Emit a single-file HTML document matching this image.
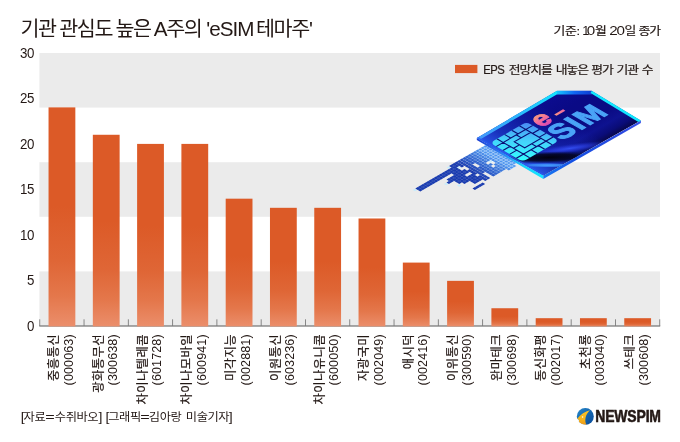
<!DOCTYPE html>
<html lang="ko">
<head>
<meta charset="utf-8">
<title>기관 관심도 높은 A주의 'eSIM 테마주'</title>
<style>
html,body{margin:0;padding:0;background:#fff;}
body{width:680px;height:442px;overflow:hidden;position:relative;font-family:"Liberation Sans", "Noto Sans CJK KR", sans-serif;color:#231815;}
svg{position:absolute;left:0;top:0;display:block;}
text{font-family:"Liberation Sans", "Noto Sans CJK KR", sans-serif;fill:#231815;}
.t{font-size:20.4px;font-weight:400;letter-spacing:-1.34px;}
.d{font-size:11.5px;font-weight:400;letter-spacing:-0.335px;stroke:#231815;stroke-width:0.2px;}
.y{font-size:14.8px;font-weight:400;letter-spacing:-0.6px;}
.x{font-size:12.3px;font-weight:400;letter-spacing:0px;stroke:#231815;stroke-width:0.2px;}
.f{font-size:11.8px;font-weight:400;letter-spacing:-0.4px;}
.lg{font-size:15.8px;font-weight:700;letter-spacing:-0.2px;fill:#231815;stroke:#231815;stroke-width:0.55px;stroke-linejoin:round;}
</style>
</head>
<body>
<svg width="680" height="442" viewBox="0 0 680 442">
<defs>
<linearGradient id="bar" x1="0" y1="0" x2="0" y2="1"><stop offset="0" stop-color="#dc5a27"/><stop offset="1" stop-color="#ef906c"/></linearGradient>
<linearGradient id="barG" x1="0" y1="0" x2="0" y2="1"><stop offset="0" stop-color="#dc5a27"/><stop offset="0.45" stop-color="#dc5a27"/><stop offset="0.7" stop-color="#df6636"/><stop offset="0.86" stop-color="#e4774b"/><stop offset="1" stop-color="#eb8e6b"/></linearGradient>
<linearGradient id="lgc" x1="0" y1="0" x2="1" y2="1"><stop offset="0" stop-color="#2a8bcb"/><stop offset="0.5" stop-color="#1265b0"/><stop offset="1" stop-color="#0a4a98"/></linearGradient>
<linearGradient id="lgy" x1="0" y1="0" x2="0" y2="1"><stop offset="0" stop-color="#f7c32a"/><stop offset="0.6" stop-color="#f4b41c"/><stop offset="1" stop-color="#ee9a1a"/></linearGradient>
</defs>
<rect width="680" height="442" fill="#fff"/>
<rect x="39.4" y="53.00" width="620.6" height="54.60" fill="#ebebeb"/>
<rect x="39.4" y="162.20" width="620.6" height="54.60" fill="#ebebeb"/>
<rect x="39.4" y="271.40" width="620.6" height="54.60" fill="#ebebeb"/>
<text class="t" transform="translate(0 35.6) scale(1.013 1)"><tspan x="20.14">기관 </tspan><tspan x="58.44">관심도 </tspan><tspan x="113.92">높은 </tspan><tspan x="151.83">A주의 </tspan><tspan x="203.65" style="letter-spacing:-0.95px">'eSIM </tspan><tspan x="252.71">테마주'</tspan></text>
<text class="d" transform="translate(0 35.2) scale(1.1165 1)"><tspan x="495.84">기준: </tspan><tspan x="521.45" style="font-size:13.6px;letter-spacing:-0.93px;stroke:none" textLength="5.6" lengthAdjust="spacingAndGlyphs">1</tspan><tspan x="525.48" style="font-size:13.6px;letter-spacing:-0.93px;stroke:none">0</tspan><tspan x="532.92">월 </tspan><tspan x="545.63" style="font-size:13.6px;letter-spacing:-0.93px;stroke:none">20</tspan><tspan x="559.43">일 </tspan><tspan x="571.88" style="letter-spacing:-0.9px">종가</tspan></text>
<rect x="455" y="64.9" width="22.4" height="8.2" fill="#dc5a27"/>
<text class="d" style="font-size:11.9px;letter-spacing:-0.55px" transform="translate(483.2 73.9) scale(0.95 1)">EPS </text>
<text class="d" style="letter-spacing:-0.91px" transform="translate(0 73.9) scale(1.1165 1)"><tspan x="455.62">전망치를 </tspan><tspan x="497.81">내놓은 </tspan><tspan x="529.51">평가 </tspan><tspan x="552.08">기관 </tspan><tspan x="574.83">수</tspan></text>
<text class="y" transform="translate(33.8 330.9) scale(0.9 1)" text-anchor="end">0</text>
<text class="y" transform="translate(33.8 285.4) scale(0.9 1)" text-anchor="end">5</text>
<text class="y" transform="translate(33.8 239.8) scale(0.9 1)" text-anchor="end">10</text>
<text class="y" transform="translate(33.8 194.3) scale(0.9 1)" text-anchor="end">15</text>
<text class="y" transform="translate(33.8 148.8) scale(0.9 1)" text-anchor="end">20</text>
<text class="y" transform="translate(33.8 103.3) scale(0.9 1)" text-anchor="end">25</text>
<text class="y" transform="translate(33.8 57.9) scale(0.9 1)" text-anchor="end">30</text>
<rect x="39.3" y="325.4" width="620.9" height="1.2" fill="#737373"/>
<rect x="39.30" y="319.3" width="0.9" height="6.7" fill="#7c7c7c"/>
<rect x="83.59" y="319.3" width="0.9" height="6.7" fill="#7c7c7c"/>
<rect x="127.87" y="319.3" width="0.9" height="6.7" fill="#7c7c7c"/>
<rect x="172.16" y="319.3" width="0.9" height="6.7" fill="#7c7c7c"/>
<rect x="216.44" y="319.3" width="0.9" height="6.7" fill="#7c7c7c"/>
<rect x="260.73" y="319.3" width="0.9" height="6.7" fill="#7c7c7c"/>
<rect x="305.01" y="319.3" width="0.9" height="6.7" fill="#7c7c7c"/>
<rect x="349.30" y="319.3" width="0.9" height="6.7" fill="#7c7c7c"/>
<rect x="393.59" y="319.3" width="0.9" height="6.7" fill="#7c7c7c"/>
<rect x="437.87" y="319.3" width="0.9" height="6.7" fill="#7c7c7c"/>
<rect x="482.16" y="319.3" width="0.9" height="6.7" fill="#7c7c7c"/>
<rect x="526.44" y="319.3" width="0.9" height="6.7" fill="#7c7c7c"/>
<rect x="570.73" y="319.3" width="0.9" height="6.7" fill="#7c7c7c"/>
<rect x="615.01" y="319.3" width="0.9" height="6.7" fill="#7c7c7c"/>
<rect x="659.30" y="319.3" width="0.9" height="6.7" fill="#7c7c7c"/>
<rect x="48.54" y="107.38" width="26.80" height="219.07" fill="url(#barG)"/>
<rect x="92.83" y="134.77" width="26.80" height="191.68" fill="url(#barG)"/>
<rect x="137.11" y="143.90" width="26.80" height="182.55" fill="url(#barG)"/>
<rect x="181.40" y="143.90" width="26.80" height="182.55" fill="url(#barG)"/>
<rect x="225.69" y="198.68" width="26.80" height="127.77" fill="url(#barG)"/>
<rect x="269.97" y="207.81" width="26.80" height="118.64" fill="url(#barG)"/>
<rect x="314.26" y="207.81" width="26.80" height="118.64" fill="url(#barG)"/>
<rect x="358.54" y="218.49" width="26.80" height="107.96" fill="url(#barG)"/>
<rect x="402.83" y="262.59" width="26.80" height="63.86" fill="url(#barG)"/>
<rect x="447.11" y="280.85" width="26.80" height="45.60" fill="url(#barG)"/>
<rect x="491.40" y="308.24" width="26.80" height="18.21" fill="url(#barG)"/>
<rect x="535.69" y="318.19" width="26.80" height="8.26" fill="url(#barG)"/>
<rect x="579.97" y="318.19" width="26.80" height="8.26" fill="url(#barG)"/>
<rect x="624.26" y="318.19" width="26.80" height="8.26" fill="url(#barG)"/>
<text class="x" style="letter-spacing:0.45px" text-anchor="end" transform="translate(58.24 333.9) rotate(-90)" x="0" y="0">중흥통신</text>
<text class="x" style="font-size:13.6px;letter-spacing:0.15px;stroke:none" text-anchor="end" transform="translate(72.74 334.3) rotate(-90) scale(0.92 1)" x="0" y="0">(000063)</text>
<text class="x" style="letter-spacing:0.45px" text-anchor="end" transform="translate(102.53 333.9) rotate(-90)" x="0" y="0">광화통무선</text>
<text class="x" style="font-size:13.6px;letter-spacing:0.15px;stroke:none" text-anchor="end" transform="translate(117.03 334.3) rotate(-90) scale(0.92 1)" x="0" y="0">(300638)</text>
<text class="x" style="letter-spacing:0.45px" text-anchor="end" transform="translate(146.81 333.9) rotate(-90)" x="0" y="0">차이나텔레콤</text>
<text class="x" style="font-size:13.6px;letter-spacing:0.15px;stroke:none" text-anchor="end" transform="translate(161.31 334.3) rotate(-90) scale(0.92 1)" x="0" y="0">(601728)</text>
<text class="x" style="letter-spacing:0.45px" text-anchor="end" transform="translate(191.10 333.9) rotate(-90)" x="0" y="0">차이나모바일</text>
<text class="x" style="font-size:13.6px;letter-spacing:0.15px;stroke:none" text-anchor="end" transform="translate(205.60 334.3) rotate(-90) scale(0.92 1)" x="0" y="0">(600941)</text>
<text class="x" style="letter-spacing:0.45px" text-anchor="end" transform="translate(235.39 333.9) rotate(-90)" x="0" y="0">미각지능</text>
<text class="x" style="font-size:13.6px;letter-spacing:0.15px;stroke:none" text-anchor="end" transform="translate(249.89 334.3) rotate(-90) scale(0.92 1)" x="0" y="0">(002881)</text>
<text class="x" style="letter-spacing:0.45px" text-anchor="end" transform="translate(279.67 333.9) rotate(-90)" x="0" y="0">이원통신</text>
<text class="x" style="font-size:13.6px;letter-spacing:0.15px;stroke:none" text-anchor="end" transform="translate(294.17 334.3) rotate(-90) scale(0.92 1)" x="0" y="0">(603236)</text>
<text class="x" style="letter-spacing:0.45px" text-anchor="end" transform="translate(323.96 333.9) rotate(-90)" x="0" y="0">차이나유니콤</text>
<text class="x" style="font-size:13.6px;letter-spacing:0.15px;stroke:none" text-anchor="end" transform="translate(338.46 334.3) rotate(-90) scale(0.92 1)" x="0" y="0">(600050)</text>
<text class="x" style="letter-spacing:0.45px" text-anchor="end" transform="translate(368.24 333.9) rotate(-90)" x="0" y="0">자광국미</text>
<text class="x" style="font-size:13.6px;letter-spacing:0.15px;stroke:none" text-anchor="end" transform="translate(382.74 334.3) rotate(-90) scale(0.92 1)" x="0" y="0">(002049)</text>
<text class="x" style="letter-spacing:0.45px" text-anchor="end" transform="translate(412.53 333.9) rotate(-90)" x="0" y="0">애시덕</text>
<text class="x" style="font-size:13.6px;letter-spacing:0.15px;stroke:none" text-anchor="end" transform="translate(427.03 334.3) rotate(-90) scale(0.92 1)" x="0" y="0">(002416)</text>
<text class="x" style="letter-spacing:0.45px" text-anchor="end" transform="translate(456.81 333.9) rotate(-90)" x="0" y="0">이위통신</text>
<text class="x" style="font-size:13.6px;letter-spacing:0.15px;stroke:none" text-anchor="end" transform="translate(471.31 334.3) rotate(-90) scale(0.92 1)" x="0" y="0">(300590)</text>
<text class="x" style="letter-spacing:0.45px" text-anchor="end" transform="translate(501.10 333.9) rotate(-90)" x="0" y="0">완마테크</text>
<text class="x" style="font-size:13.6px;letter-spacing:0.15px;stroke:none" text-anchor="end" transform="translate(515.60 334.3) rotate(-90) scale(0.92 1)" x="0" y="0">(300698)</text>
<text class="x" style="letter-spacing:0.45px" text-anchor="end" transform="translate(545.39 333.9) rotate(-90)" x="0" y="0">동신화평</text>
<text class="x" style="font-size:13.6px;letter-spacing:0.15px;stroke:none" text-anchor="end" transform="translate(559.89 334.3) rotate(-90) scale(0.92 1)" x="0" y="0">(002017)</text>
<text class="x" style="letter-spacing:0.45px" text-anchor="end" transform="translate(589.67 333.9) rotate(-90)" x="0" y="0">초천룡</text>
<text class="x" style="font-size:13.6px;letter-spacing:0.15px;stroke:none" text-anchor="end" transform="translate(604.17 334.3) rotate(-90) scale(0.92 1)" x="0" y="0">(003040)</text>
<text class="x" style="letter-spacing:0.45px" text-anchor="end" transform="translate(633.96 333.9) rotate(-90)" x="0" y="0">쓰테크</text>
<text class="x" style="font-size:13.6px;letter-spacing:0.15px;stroke:none" text-anchor="end" transform="translate(648.46 334.3) rotate(-90) scale(0.92 1)" x="0" y="0">(300608)</text>
<text class="f" transform="translate(0 421.2) scale(1.04 1)"><tspan x="20.00" y="-0.7" style="font-size:13.6px">[</tspan><tspan x="22.69" y="0">자료</tspan><tspan x="43.46" y="0" textLength="8.6" lengthAdjust="spacingAndGlyphs">=</tspan><tspan x="52.69" y="0">수쥐바오</tspan><tspan x="94.81" y="-0.7" style="font-size:13.6px">] </tspan><tspan x="101.54" y="-0.7" style="font-size:13.6px">[</tspan><tspan x="104.04" y="0">그래픽</tspan><tspan x="134.90" y="0" textLength="8.6" lengthAdjust="spacingAndGlyphs">=</tspan><tspan x="143.08" y="0">김아랑 </tspan><tspan x="178.65" y="0">미술기자</tspan><tspan x="220.00" y="-0.7" style="font-size:13.6px">]</tspan></text>
<g id="logo"><circle cx="585.3" cy="416.4" r="8.5" fill="url(#lgc)"/>
<path d="M589.9 410.3 C585 411.6 580.6 414.4 577.2 418.7 L579.0 420.3 L578.7 421.5 C579.8 423.4 582.6 424.9 586.4 424.7 C584.3 420.5 585.3 414.6 589.9 410.3 Z" fill="url(#lgy)"/>
<path d="M577.2 418.7 L575.5 418.7 L575.5 426.5 L586.4 426.5 L586.4 424.7 C582.6 424.9 579.8 423.4 578.7 421.5 L579.0 420.3 Z" fill="#fff"/>
<circle cx="582.6" cy="417" r="0.8" fill="#fff"/>
<text class="lg" transform="translate(595.3 422.1) scale(0.885 1)">NEWSPIM</text></g>
<g id="esim">
<defs>
<linearGradient id="cf" gradientUnits="userSpaceOnUse" x1="0" y1="0" x2="0" y2="77" gradientTransform="matrix(0.866 -0.5 0.866 0.5 476.8 137)">
<stop offset="0" stop-color="#0c0c90"/><stop offset="0.3" stop-color="#0a0a86"/><stop offset="0.62" stop-color="#0a0a82"/><stop offset="0.8" stop-color="#0e1290"/><stop offset="0.92" stop-color="#0a0c78"/><stop offset="1" stop-color="#080850"/></linearGradient>
<linearGradient id="cfl" gradientUnits="userSpaceOnUse" x1="0" y1="0" x2="70" y2="0" gradientTransform="matrix(0.866 -0.5 0.866 0.5 476.8 137)">
<stop offset="0" stop-color="#2a58ea" stop-opacity="0.95"/><stop offset="0.25" stop-color="#1e40d0" stop-opacity="0.7"/><stop offset="0.65" stop-color="#1a34c4" stop-opacity="0.3"/><stop offset="1" stop-color="#1a30c0" stop-opacity="0"/></linearGradient>
<linearGradient id="chip" gradientUnits="userSpaceOnUse" x1="3" y1="49" x2="43" y2="15">
<stop offset="0" stop-color="#34fbff"/><stop offset="0.5" stop-color="#44d4fb"/><stop offset="1" stop-color="#4a8cf4"/></linearGradient>
<linearGradient id="et" gradientUnits="userSpaceOnUse" x1="0" y1="12" x2="0" y2="29">
<stop offset="0" stop-color="#f8a07a"/><stop offset="0.45" stop-color="#f4709a"/><stop offset="1" stop-color="#dc48b4"/></linearGradient>
<linearGradient id="et2" x1="0" y1="0" x2="1" y2="0">
<stop offset="0" stop-color="#fa9c7c"/><stop offset="1" stop-color="#ee5ea6"/></linearGradient>
<linearGradient id="sl" gradientUnits="userSpaceOnUse" x1="476" y1="0" x2="544" y2="0">
<stop offset="0" stop-color="#1a3ad0"/><stop offset="0.35" stop-color="#2a7af2"/><stop offset="0.7" stop-color="#18d0fc"/><stop offset="1" stop-color="#12e8ff"/></linearGradient>
<radialGradient id="rgb"><stop offset="0" stop-color="#3450f4" stop-opacity="0.95"/><stop offset="0.5" stop-color="#2a3ce0" stop-opacity="0.6"/><stop offset="1" stop-color="#1a2cc0" stop-opacity="0"/></radialGradient>
<radialGradient id="rgk"><stop offset="0" stop-color="#01010f" stop-opacity="1"/><stop offset="0.55" stop-color="#02021a" stop-opacity="0.85"/><stop offset="1" stop-color="#04043a" stop-opacity="0"/></radialGradient>
<radialGradient id="rgl"><stop offset="0" stop-color="#48a0ff" stop-opacity="1"/><stop offset="0.6" stop-color="#3a8cf8" stop-opacity="0.8"/><stop offset="1" stop-color="#2a6cf0" stop-opacity="0"/></radialGradient>
<linearGradient id="eg1" gradientUnits="userSpaceOnUse" x1="476" y1="0" x2="557" y2="0"><stop offset="0" stop-color="#4696fa"/><stop offset="0.5" stop-color="#2cb4fc"/><stop offset="1" stop-color="#14e4ff"/></linearGradient>
<linearGradient id="eg2" gradientUnits="userSpaceOnUse" x1="557" y1="0" x2="592" y2="0"><stop offset="0" stop-color="#16c4ff"/><stop offset="0.5" stop-color="#1266f2"/><stop offset="1" stop-color="#0e3cd2"/></linearGradient>
<linearGradient id="sr" gradientUnits="userSpaceOnUse" x1="543" y1="0" x2="641" y2="0">
<stop offset="0" stop-color="#1a7cf4"/><stop offset="0.3" stop-color="#1450e4"/><stop offset="0.8" stop-color="#2a48e0"/><stop offset="1" stop-color="#3a54ea"/></linearGradient>
</defs>
<g transform="matrix(0.866 -0.5 0.866 0.5 476.8 137)">
<path d="M-90.0 16.0h2.65v2.65h-2.65zM-48.0 13.0h2.65v2.65h-2.65zM-18.0 31.0h2.65v2.65h-2.65zM-66.0 28.0h2.65v2.65h-2.65zM-42.0 19.0h2.65v2.65h-2.65zM-60.0 37.0h2.65v2.65h-2.65z" fill="#c9ecfb"/>
<path d="M-3.05 12.95h3.10v3.10h-3.10zM-6.05 12.95h3.10v3.10h-3.10zM-9.05 12.95h3.10v3.10h-3.10zM-12.05 12.95h3.10v3.10h-3.10zM-3.05 15.95h3.10v3.10h-3.10zM-6.05 15.95h3.10v3.10h-3.10zM-9.05 15.95h3.10v3.10h-3.10zM-12.05 15.95h3.10v3.10h-3.10zM-3.05 18.95h3.10v3.10h-3.10zM-6.05 18.95h3.10v3.10h-3.10zM-9.05 18.95h3.10v3.10h-3.10zM-12.05 18.95h3.10v3.10h-3.10zM-3.05 21.95h3.10v3.10h-3.10zM-6.05 21.95h3.10v3.10h-3.10zM-9.05 21.95h3.10v3.10h-3.10zM-12.05 21.95h3.10v3.10h-3.10zM-3.05 24.95h3.10v3.10h-3.10zM-6.05 24.95h3.10v3.10h-3.10zM-9.05 24.95h3.10v3.10h-3.10zM-12.05 24.95h3.10v3.10h-3.10zM-3.05 27.95h3.10v3.10h-3.10zM-6.05 27.95h3.10v3.10h-3.10zM-9.05 27.95h3.10v3.10h-3.10zM-12.05 27.95h3.10v3.10h-3.10zM-3.05 30.95h3.10v3.10h-3.10zM-6.05 30.95h3.10v3.10h-3.10zM-9.05 30.95h3.10v3.10h-3.10zM-12.05 30.95h3.10v3.10h-3.10zM-3.05 33.95h3.10v3.10h-3.10zM-6.05 33.95h3.10v3.10h-3.10zM-9.05 33.95h3.10v3.10h-3.10zM-12.05 33.95h3.10v3.10h-3.10zM-3.05 36.95h3.10v3.10h-3.10zM-6.05 36.95h3.10v3.10h-3.10zM-9.05 36.95h3.10v3.10h-3.10zM-12.05 36.95h3.10v3.10h-3.10zM-3.05 39.95h3.10v3.10h-3.10zM-6.05 39.95h3.10v3.10h-3.10zM-9.05 39.95h3.10v3.10h-3.10zM-12.05 39.95h3.10v3.10h-3.10zM-3.05 42.95h3.10v3.10h-3.10zM-6.05 42.95h3.10v3.10h-3.10zM-9.05 42.95h3.10v3.10h-3.10zM-12.05 42.95h3.10v3.10h-3.10zM-6.05 45.95h3.10v3.10h-3.10zM-9.05 45.95h3.10v3.10h-3.10zM-12.05 45.95h3.10v3.10h-3.10zM-9.05 48.95h3.10v3.10h-3.10zM-12.05 48.95h3.10v3.10h-3.10z" fill="#a4ccf9"/>
<path d="M-15.05 12.95h3.10v3.10h-3.10zM-15.05 15.95h3.10v3.10h-3.10zM-15.05 18.95h3.10v3.10h-3.10zM-15.05 21.95h3.10v3.10h-3.10zM-15.05 24.95h3.10v3.10h-3.10zM-15.05 27.95h3.10v3.10h-3.10zM-15.05 30.95h3.10v3.10h-3.10zM-15.05 33.95h3.10v3.10h-3.10zM-15.05 36.95h3.10v3.10h-3.10zM-15.05 39.95h3.10v3.10h-3.10zM-15.05 42.95h3.10v3.10h-3.10zM-15.05 45.95h3.10v3.10h-3.10zM-15.05 48.95h3.10v3.10h-3.10z" fill="#98c1f4"/>
<path d="M-18.05 12.95h3.10v3.10h-3.10zM-18.05 15.95h3.10v3.10h-3.10zM-18.05 18.95h3.10v3.10h-3.10zM-18.05 21.95h3.10v3.10h-3.10zM-18.05 24.95h3.10v3.10h-3.10zM-18.05 27.95h3.10v3.10h-3.10zM-18.05 36.95h3.10v3.10h-3.10zM-18.05 39.95h3.10v3.10h-3.10zM-18.05 42.95h3.10v3.10h-3.10zM-18.05 45.95h3.10v3.10h-3.10z" fill="#8cb6f0"/>
<path d="M-21.05 12.95h3.10v3.10h-3.10zM-21.05 15.95h3.10v3.10h-3.10zM-21.05 18.95h3.10v3.10h-3.10zM-21.05 21.95h3.10v3.10h-3.10zM-21.05 24.95h3.10v3.10h-3.10zM-21.05 27.95h3.10v3.10h-3.10zM-21.05 33.95h3.10v3.10h-3.10zM-21.05 39.95h3.10v3.10h-3.10zM-21.05 42.95h3.10v3.10h-3.10zM-21.05 45.95h3.10v3.10h-3.10z" fill="#81abeb"/>
<path d="M-24.05 12.95h3.10v3.10h-3.10zM-24.05 15.95h3.10v3.10h-3.10zM-24.05 18.95h3.10v3.10h-3.10zM-24.05 21.95h3.10v3.10h-3.10zM-24.05 24.95h3.10v3.10h-3.10zM-24.05 27.95h3.10v3.10h-3.10zM-24.05 30.95h3.10v3.10h-3.10zM-24.05 33.95h3.10v3.10h-3.10zM-24.05 36.95h3.10v3.10h-3.10zM-24.05 39.95h3.10v3.10h-3.10zM-24.05 42.95h3.10v3.10h-3.10zM-24.05 45.95h3.10v3.10h-3.10z" fill="#75a0e7"/>
<path d="M-27.05 12.95h3.10v3.10h-3.10zM-27.05 15.95h3.10v3.10h-3.10zM-27.05 18.95h3.10v3.10h-3.10zM-27.05 21.95h3.10v3.10h-3.10zM-27.05 24.95h3.10v3.10h-3.10zM-27.05 27.95h3.10v3.10h-3.10zM-27.05 30.95h3.10v3.10h-3.10zM-27.05 33.95h3.10v3.10h-3.10zM-27.05 36.95h3.10v3.10h-3.10zM-27.05 39.95h3.10v3.10h-3.10zM-27.05 42.95h3.10v3.10h-3.10zM-27.05 45.95h3.10v3.10h-3.10z" fill="#6994e2"/>
<path d="M-30.05 12.95h3.10v3.10h-3.10zM-30.05 15.95h3.10v3.10h-3.10zM-30.05 18.95h3.10v3.10h-3.10zM-30.05 21.95h3.10v3.10h-3.10zM-30.05 30.95h3.10v3.10h-3.10zM-30.05 33.95h3.10v3.10h-3.10zM-30.05 36.95h3.10v3.10h-3.10zM-30.05 39.95h3.10v3.10h-3.10zM-30.05 42.95h3.10v3.10h-3.10zM-30.05 45.95h3.10v3.10h-3.10z" fill="#5d89de"/>
<path d="M-2.60 13.40h2.20v2.20h-2.20zM-5.60 13.40h2.20v2.20h-2.20zM-8.60 13.40h2.20v2.20h-2.20zM-11.60 13.40h2.20v2.20h-2.20zM-2.60 16.40h2.20v2.20h-2.20zM-5.60 16.40h2.20v2.20h-2.20zM-8.60 16.40h2.20v2.20h-2.20zM-11.60 16.40h2.20v2.20h-2.20zM-2.60 19.40h2.20v2.20h-2.20zM-5.60 19.40h2.20v2.20h-2.20zM-8.60 19.40h2.20v2.20h-2.20zM-11.60 19.40h2.20v2.20h-2.20zM-2.60 22.40h2.20v2.20h-2.20zM-5.60 22.40h2.20v2.20h-2.20zM-8.60 22.40h2.20v2.20h-2.20zM-11.60 22.40h2.20v2.20h-2.20zM-2.60 25.40h2.20v2.20h-2.20zM-5.60 25.40h2.20v2.20h-2.20zM-8.60 25.40h2.20v2.20h-2.20zM-11.60 25.40h2.20v2.20h-2.20zM-2.60 28.40h2.20v2.20h-2.20zM-5.60 28.40h2.20v2.20h-2.20zM-8.60 28.40h2.20v2.20h-2.20zM-11.60 28.40h2.20v2.20h-2.20zM-2.60 31.40h2.20v2.20h-2.20zM-5.60 31.40h2.20v2.20h-2.20zM-8.60 31.40h2.20v2.20h-2.20zM-11.60 31.40h2.20v2.20h-2.20zM-2.60 34.40h2.20v2.20h-2.20zM-5.60 34.40h2.20v2.20h-2.20zM-8.60 34.40h2.20v2.20h-2.20zM-11.60 34.40h2.20v2.20h-2.20zM-2.60 37.40h2.20v2.20h-2.20zM-5.60 37.40h2.20v2.20h-2.20zM-8.60 37.40h2.20v2.20h-2.20zM-11.60 37.40h2.20v2.20h-2.20zM-2.60 40.40h2.20v2.20h-2.20zM-5.60 40.40h2.20v2.20h-2.20zM-8.60 40.40h2.20v2.20h-2.20zM-11.60 40.40h2.20v2.20h-2.20zM-2.60 43.40h2.20v2.20h-2.20zM-5.60 43.40h2.20v2.20h-2.20zM-8.60 43.40h2.20v2.20h-2.20zM-11.60 43.40h2.20v2.20h-2.20zM-5.60 46.40h2.20v2.20h-2.20zM-8.60 46.40h2.20v2.20h-2.20zM-11.60 46.40h2.20v2.20h-2.20zM-8.60 49.40h2.20v2.20h-2.20zM-11.60 49.40h2.20v2.20h-2.20z" fill="#4e94ee"/>
<path d="M-14.63 13.37h2.26v2.26h-2.26zM-14.63 16.37h2.26v2.26h-2.26zM-14.63 19.37h2.26v2.26h-2.26zM-14.63 22.37h2.26v2.26h-2.26zM-14.63 25.37h2.26v2.26h-2.26zM-14.63 28.37h2.26v2.26h-2.26zM-14.63 31.37h2.26v2.26h-2.26zM-14.63 34.37h2.26v2.26h-2.26zM-14.63 37.37h2.26v2.26h-2.26zM-14.63 40.37h2.26v2.26h-2.26zM-14.63 43.37h2.26v2.26h-2.26zM-14.63 46.37h2.26v2.26h-2.26zM-14.63 49.37h2.26v2.26h-2.26z" fill="#488ae7"/>
<path d="M-17.66 13.34h2.32v2.32h-2.32zM-17.66 16.34h2.32v2.32h-2.32zM-17.66 19.34h2.32v2.32h-2.32zM-17.66 22.34h2.32v2.32h-2.32zM-17.66 25.34h2.32v2.32h-2.32zM-17.66 28.34h2.32v2.32h-2.32zM-17.66 37.34h2.32v2.32h-2.32zM-17.66 40.34h2.32v2.32h-2.32zM-17.66 43.34h2.32v2.32h-2.32zM-17.66 46.34h2.32v2.32h-2.32z" fill="#4280e0"/>
<path d="M-20.69 13.31h2.38v2.38h-2.38zM-20.69 16.31h2.38v2.38h-2.38zM-20.69 19.31h2.38v2.38h-2.38zM-20.69 22.31h2.38v2.38h-2.38zM-20.69 25.31h2.38v2.38h-2.38zM-20.69 28.31h2.38v2.38h-2.38zM-20.69 34.31h2.38v2.38h-2.38zM-20.69 40.31h2.38v2.38h-2.38zM-20.69 43.31h2.38v2.38h-2.38zM-20.69 46.31h2.38v2.38h-2.38z" fill="#3d77d9"/>
<path d="M-23.72 13.28h2.44v2.44h-2.44zM-23.72 16.28h2.44v2.44h-2.44zM-23.72 19.28h2.44v2.44h-2.44zM-23.72 22.28h2.44v2.44h-2.44zM-23.72 25.28h2.44v2.44h-2.44zM-23.72 28.28h2.44v2.44h-2.44zM-23.72 31.28h2.44v2.44h-2.44zM-23.72 34.28h2.44v2.44h-2.44zM-23.72 37.28h2.44v2.44h-2.44zM-23.72 40.28h2.44v2.44h-2.44zM-23.72 43.28h2.44v2.44h-2.44zM-23.72 46.28h2.44v2.44h-2.44z" fill="#376dd2"/>
<path d="M-26.75 13.25h2.51v2.51h-2.51zM-26.75 16.25h2.51v2.51h-2.51zM-26.75 19.25h2.51v2.51h-2.51zM-26.75 22.25h2.51v2.51h-2.51zM-26.75 25.25h2.51v2.51h-2.51zM-26.75 28.25h2.51v2.51h-2.51zM-26.75 31.25h2.51v2.51h-2.51zM-26.75 34.25h2.51v2.51h-2.51zM-26.75 37.25h2.51v2.51h-2.51zM-26.75 40.25h2.51v2.51h-2.51zM-26.75 43.25h2.51v2.51h-2.51zM-26.75 46.25h2.51v2.51h-2.51z" fill="#3163cc"/>
<path d="M-29.78 13.22h2.57v2.57h-2.57zM-29.78 16.22h2.57v2.57h-2.57zM-29.78 19.22h2.57v2.57h-2.57zM-29.78 22.22h2.57v2.57h-2.57zM-29.78 31.22h2.57v2.57h-2.57zM-29.78 34.22h2.57v2.57h-2.57zM-29.78 37.22h2.57v2.57h-2.57zM-29.78 40.22h2.57v2.57h-2.57zM-29.78 43.22h2.57v2.57h-2.57zM-29.78 46.22h2.57v2.57h-2.57z" fill="#2b59c5"/>
<path d="M-33.00 13.00h2.80v2.80h-2.80zM-33.00 16.00h2.80v2.80h-2.80zM-33.00 19.00h2.80v2.80h-2.80zM-33.00 22.00h2.80v2.80h-2.80zM-33.00 25.00h2.80v2.80h-2.80zM-33.00 28.00h2.80v2.80h-2.80zM-33.00 31.00h2.80v2.80h-2.80zM-33.00 34.00h2.80v2.80h-2.80zM-33.00 37.00h2.80v2.80h-2.80z" fill="#2650be"/>
<path d="M-36.00 13.00h2.80v2.80h-2.80zM-36.00 16.00h2.80v2.80h-2.80zM-36.00 19.00h2.80v2.80h-2.80zM-36.00 22.00h2.80v2.80h-2.80zM-36.00 25.00h2.80v2.80h-2.80zM-36.00 28.00h2.80v2.80h-2.80zM-36.00 31.00h2.80v2.80h-2.80zM-36.00 34.00h2.80v2.80h-2.80zM-36.00 37.00h2.80v2.80h-2.80zM-36.00 40.00h2.80v2.80h-2.80zM-36.00 43.00h2.80v2.80h-2.80zM-36.00 46.00h2.80v2.80h-2.80z" fill="#2046b7"/>
<path d="M-39.00 13.00h2.80v2.80h-2.80zM-42.00 13.00h2.80v2.80h-2.80zM-45.00 13.00h2.80v2.80h-2.80zM-39.00 16.00h2.80v2.80h-2.80zM-42.00 16.00h2.80v2.80h-2.80zM-45.00 16.00h2.80v2.80h-2.80zM-48.00 16.00h2.80v2.80h-2.80zM-51.00 16.00h2.80v2.80h-2.80zM-54.00 16.00h2.80v2.80h-2.80zM-57.00 16.00h2.80v2.80h-2.80zM-60.00 16.00h2.80v2.80h-2.80zM-63.00 16.00h2.80v2.80h-2.80zM-66.00 16.00h2.80v2.80h-2.80zM-69.00 16.00h2.80v2.80h-2.80zM-72.00 16.00h2.80v2.80h-2.80zM-75.00 16.00h2.80v2.80h-2.80zM-78.00 16.00h2.80v2.80h-2.80zM-81.00 16.00h2.80v2.80h-2.80zM-84.00 16.00h2.80v2.80h-2.80zM-87.00 16.00h2.80v2.80h-2.80zM-39.00 19.00h2.80v2.80h-2.80zM-45.00 19.00h2.80v2.80h-2.80zM-48.00 19.00h2.80v2.80h-2.80zM-51.00 19.00h2.80v2.80h-2.80zM-54.00 19.00h2.80v2.80h-2.80zM-57.00 19.00h2.80v2.80h-2.80zM-60.00 19.00h2.80v2.80h-2.80zM-63.00 19.00h2.80v2.80h-2.80zM-66.00 19.00h2.80v2.80h-2.80zM-69.00 19.00h2.80v2.80h-2.80zM-72.00 19.00h2.80v2.80h-2.80zM-75.00 19.00h2.80v2.80h-2.80zM-78.00 19.00h2.80v2.80h-2.80zM-81.00 19.00h2.80v2.80h-2.80zM-84.00 19.00h2.80v2.80h-2.80zM-87.00 19.00h2.80v2.80h-2.80zM-45.00 22.00h2.80v2.80h-2.80zM-48.00 22.00h2.80v2.80h-2.80zM-51.00 22.00h2.80v2.80h-2.80zM-42.00 25.00h2.80v2.80h-2.80zM-45.00 25.00h2.80v2.80h-2.80zM-48.00 25.00h2.80v2.80h-2.80zM-51.00 25.00h2.80v2.80h-2.80zM-54.00 25.00h2.80v2.80h-2.80zM-57.00 25.00h2.80v2.80h-2.80zM-60.00 25.00h2.80v2.80h-2.80zM-39.00 28.00h2.80v2.80h-2.80zM-42.00 28.00h2.80v2.80h-2.80zM-45.00 28.00h2.80v2.80h-2.80zM-48.00 28.00h2.80v2.80h-2.80zM-51.00 28.00h2.80v2.80h-2.80zM-54.00 28.00h2.80v2.80h-2.80zM-57.00 28.00h2.80v2.80h-2.80zM-60.00 28.00h2.80v2.80h-2.80zM-63.00 28.00h2.80v2.80h-2.80zM-39.00 31.00h2.80v2.80h-2.80zM-48.00 31.00h2.80v2.80h-2.80zM-51.00 31.00h2.80v2.80h-2.80zM-54.00 31.00h2.80v2.80h-2.80zM-57.00 31.00h2.80v2.80h-2.80zM-39.00 34.00h2.80v2.80h-2.80zM-42.00 34.00h2.80v2.80h-2.80zM-45.00 34.00h2.80v2.80h-2.80zM-48.00 34.00h2.80v2.80h-2.80zM-51.00 34.00h2.80v2.80h-2.80zM-54.00 34.00h2.80v2.80h-2.80zM-57.00 34.00h2.80v2.80h-2.80zM-42.00 37.00h2.80v2.80h-2.80zM-45.00 37.00h2.80v2.80h-2.80zM-48.00 37.00h2.80v2.80h-2.80zM-51.00 37.00h2.80v2.80h-2.80zM-54.00 37.00h2.80v2.80h-2.80zM-39.00 40.00h2.80v2.80h-2.80zM-42.00 40.00h2.80v2.80h-2.80zM-45.00 40.00h2.80v2.80h-2.80zM-48.00 40.00h2.80v2.80h-2.80zM-39.00 43.00h2.80v2.80h-2.80zM-42.00 43.00h2.80v2.80h-2.80zM-45.00 43.00h2.80v2.80h-2.80zM-48.00 43.00h2.80v2.80h-2.80zM-39.00 46.00h2.80v2.80h-2.80zM-45.00 49.00h2.80v2.80h-2.80zM-48.00 49.00h2.80v2.80h-2.80zM-51.00 49.00h2.80v2.80h-2.80zM-54.00 49.00h2.80v2.80h-2.80z" fill="#1a3cb0"/>
</g>
<polygon points="476.8,138.0 543.3,175.6 543.3,178.9 476.8,140.1" fill="url(#sl)"/>
<polygon points="543.3,175.6 640.9,120.6 640.9,122.9 543.3,178.9" fill="url(#sr)"/>
<clipPath id="fc"><polygon points="476.8,138.0 556.9,90.8 591.8,90.8 640.9,120.6 543.3,175.6"/></clipPath>
<g clip-path="url(#fc)">
<polygon points="476.8,138.0 556.9,90.8 591.8,90.8 640.9,120.6 543.3,175.6" fill="url(#cf)"/>
<polygon points="476.8,138.0 556.9,90.8 591.8,90.8 640.9,120.6 543.3,175.6" fill="url(#cfl)"/>
<ellipse cx="570" cy="148.4" rx="42" ry="4.6" fill="url(#rgb)" transform="rotate(-8 570 148.4)"/>
<ellipse cx="549" cy="157.4" rx="50" ry="6" fill="url(#rgk)" transform="rotate(-2 549 157.4)"/>
<ellipse cx="548" cy="165.2" rx="30" ry="2.2" fill="url(#rgl)"/>
<polyline points="476.8,138.0 556.9,90.8" fill="none" stroke="url(#eg1)" stroke-width="6"/>
<polyline points="556.9,90.8 591.8,90.8" fill="none" stroke="url(#eg2)" stroke-width="7.2"/>
<polyline points="591.8,90.8 640.9,120.6" fill="none" stroke="#12e6ff" stroke-width="5"/>
<polyline points="476.8,138.0 543.3,175.6" fill="none" stroke="#2a5cf0" stroke-width="3" opacity="0.75"/>
</g>
<g transform="matrix(0.866 -0.5 0.866 0.5 476.8 137)">
<rect x="1.8" y="13.6" width="42" height="37.6" rx="4.6" fill="url(#chip)"/>
<path d="M9.8 20.7H35.8V44.1H9.8ZM16.9 26.4H35.8V38.4H16.9ZM9.8 13.6V20.7M9.8 44.1V51.2M1.8 20.7H9.8M35.8 20.7H43.8M18.6 13.6V20.7M18.6 44.1V51.2M1.8 28.6H9.8M35.8 28.6H43.8M27.0 13.6V20.7M27.0 44.1V51.2M1.8 36.2H9.8M35.8 36.2H43.8M35.8 13.6V20.7M35.8 44.1V51.2M1.8 44.1H9.8M35.8 44.1H43.8M24.9 20.7V26.4M24.9 38.4V44.1M9.8 32.4H16.9" fill="none" stroke="#0a0e74" stroke-width="1.3"/>
<text x="47.2" y="28" style="font-family:'Liberation Sans',sans-serif;font-weight:700;font-style:italic;font-size:27.5px;fill:url(#et);stroke:url(#et);stroke-width:1px">e</text>
<text transform="translate(65.8 29.2) scale(1.55 0.86)" style="font-family:'Liberation Sans',sans-serif;font-weight:700;font-size:26px;fill:url(#et2)">-</text>
<text transform="translate(45.6 53.2) scale(0.955 1)" style="font-family:'Liberation Sans',sans-serif;font-weight:700;font-size:30px;letter-spacing:1.7px;fill:#4aa3f7;stroke:#4aa3f7;stroke-width:1.3px">SIM</text>
</g></g>
</svg>
</body>
</html>
